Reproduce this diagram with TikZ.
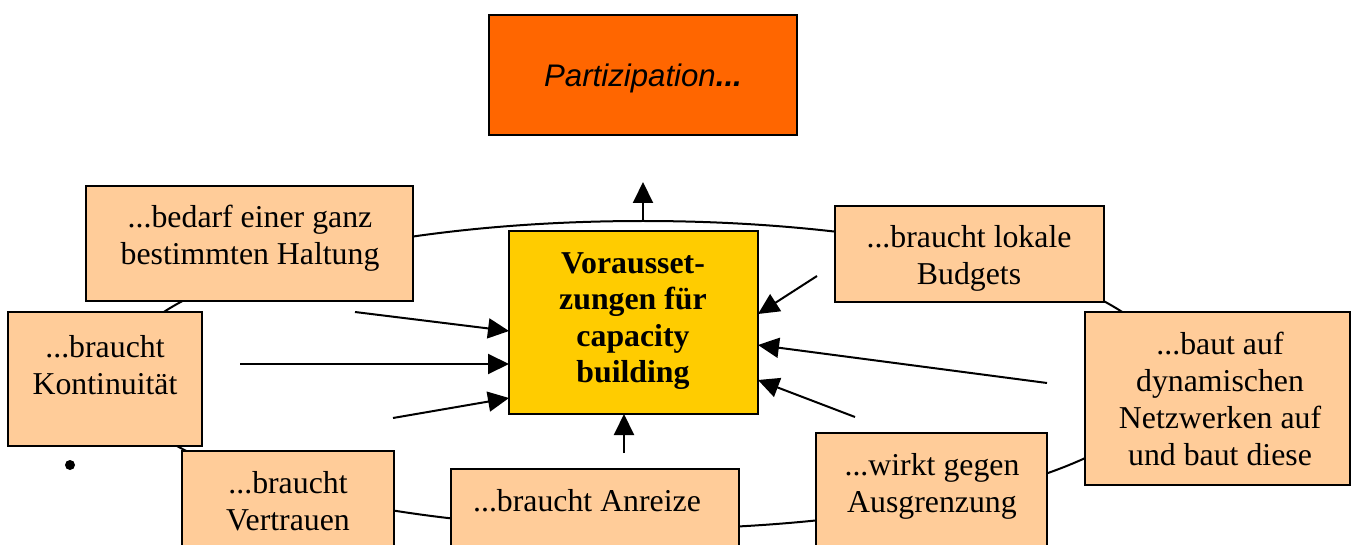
\documentclass[tikz,border=0pt]{standalone}
\usepackage{fontspec}
\setmainfont{Liberation Serif}
\newfontfamily\arialfont{Liberation Sans}
\usetikzlibrary{arrows.meta}
\definecolor{orangefill}{HTML}{FF6600}
\definecolor{yellowfill}{HTML}{FFCC00}
\definecolor{peach}{HTML}{FFCC99}
\tikzset{
  box/.style={draw, line width=1pt, fill=peach, inner sep=0pt},
  lbl/.style={align=center, inner sep=0pt, font=\fontsize{15.9pt}{18.4pt}\selectfont},
  arr/.style={line width=1pt, -{Triangle[length=10.5pt,width=10pt]}},
  ring/.style={line width=1pt},
}
\begin{document}
\begin{tikzpicture}[x=0.5pt,y=-0.5pt]
\useasboundingbox (0,0) rectangle (1360,545);
\clip (0,0) rectangle (1360,545);
% ring
\draw[ring] (643,375) ellipse [x radius=525, y radius=154];
% boxes
\node[draw, line width=1pt, fill=orangefill, inner sep=0pt, minimum width=154pt, minimum height=60pt] (part) at (643,75) {};
\node[draw, line width=1pt, fill=yellowfill, inner sep=0pt, minimum width=124.5pt, minimum height=91.5pt] (yb) at (633.5,322.5) {};
\node[box, minimum width=163.5pt, minimum height=57.5pt] (halt) at (249.5,243.5) {};
\node[box, minimum width=134.5pt, minimum height=48pt] (budg) at (969.5,254) {};
\node[box, minimum width=132.5pt, minimum height=86.5pt] (netz) at (1217.5,398.5) {};
\node[box, minimum width=97pt, minimum height=67pt] (kont) at (105,379) {};
\node[box, minimum width=106pt, minimum height=62pt] (vert) at (288,513) {};
\node[box, minimum width=144pt, minimum height=53pt] (anr) at (595,522) {};
\node[box, minimum width=115.5pt, minimum height=71pt] (ausg) at (931.5,504) {};
% texts
\node[lbl, font=\fontsize{15.6pt}{18.4pt}\selectfont\arialfont] (tpart) at (643,78) {\textit{Partizipation}\textbf{\textit{...}}};
\node[lbl, font=\fontsize{15.9pt}{18.2pt}\selectfont\bfseries] (tyb) at (633,321) {Vorausset-\\zungen für\\capacity\\building};
\node[lbl] (thalt) at (250,238) {...bedarf einer ganz\\bestimmten Haltung};
\node[lbl] (tbudg) at (969,258) {...braucht lokale\\Budgets};
\node[lbl] (tnetz) at (1220,399) {...baut auf\\dynamischen\\Netzwerken auf\\und baut diese};
\node[lbl] (tkont) at (105,365) {...braucht\\Kontinuität};
\node[lbl] (tvert) at (288,501) {...braucht\\Vertrauen};
\node[lbl] (tanr) at (587,501) {...braucht Anreize};
\node[lbl] (tausg) at (932,486) {...wirkt gegen\\Ausgrenzung};
% bullet
\fill (70,465) circle [radius=5];
% arrow coordinates
\coordinate (s0) at (643,221); \coordinate (e0) at (643,182);
\coordinate (s1) at (355,312); \coordinate (e1) at (509,331);
\coordinate (s2) at (240,364); \coordinate (e2) at (509,364);
\coordinate (s3) at (393,418); \coordinate (e3) at (509,398);
\coordinate (s4) at (624,453); \coordinate (e4) at (624,414);
\coordinate (s5) at (817,276); \coordinate (e5) at (758,314);
\coordinate (s6) at (1047,383); \coordinate (e6) at (758,345);
\coordinate (s7) at (855,417); \coordinate (e7) at (758,380);
\draw[arr] (s0) -- (e0);
\draw[arr] (s1) -- (e1);
\draw[arr] (s2) -- (e2);
\draw[arr] (s3) -- (e3);
\draw[arr] (s4) -- (e4);
\draw[arr] (s5) -- (e5);
\draw[arr] (s6) -- (e6);
\draw[arr] (s7) -- (e7);
\end{tikzpicture}
\end{document}
